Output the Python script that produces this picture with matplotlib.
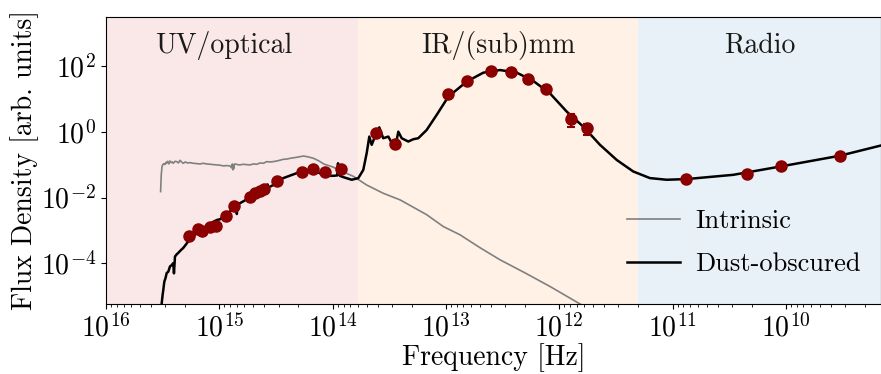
import numpy as np
import matplotlib
matplotlib.use("Agg")
import matplotlib.pyplot as plt
import matplotlib.transforms as mtransforms

plt.rcParams['font.family'] = 'serif'
plt.rcParams['font.serif'] = ['cmr10']
plt.rcParams['mathtext.fontset'] = 'cm'
plt.rcParams['axes.unicode_minus'] = False
plt.rcParams['axes.formatter.use_mathtext'] = True

# ---- data (log10 frequency [Hz], log10 flux density [arb. units]) ----
intr_lognu = [15.518, 15.512, 15.505, 15.500, 15.49, 15.48, 15.47, 15.464, 15.455, 15.445,
              15.435, 15.425, 15.415, 15.406, 15.39, 15.376, 15.36, 15.347, 15.33, 15.318,
              15.30, 15.28, 15.259, 15.23, 15.20, 15.17, 15.14, 15.111, 15.08, 15.05,
              15.023, 14.99, 14.964, 14.935, 14.906, 14.89, 14.885, 14.88, 14.877, 14.872,
              14.868, 14.862, 14.84, 14.817, 14.79, 14.76, 14.729, 14.70, 14.67, 14.64,
              14.61, 14.582, 14.55, 14.523, 14.48, 14.435, 14.40, 14.376, 14.32, 14.256,
              14.21, 14.168, 14.12, 14.079, 14.00, 13.932, 13.815, 13.699, 13.553, 13.405,
              13.30, 13.170, 13.023, 12.876, 12.70, 12.522, 12.30, 12.081, 11.816, 11.6]
intr_logf = [-1.82, -1.30, -1.05, -1.01, -0.97, -1.00, -0.93, -0.96, -0.90, -0.98,
             -0.89, -0.94, -0.92, -0.96, -0.90, -0.91, -0.95, -0.87, -0.93, -0.96,
             -0.92, -0.95, -0.94, -0.96, -0.97, -0.98, -0.96, -0.98, -0.99, -1.00,
             -1.01, -1.02, -1.04, -1.03, -1.04, -1.10, -0.98, -1.16, -1.02, -1.12,
             -0.99, -0.98, -1.00, -1.01, -0.99, -1.00, -1.01, -0.98, -0.99, -0.95,
             -0.96, -0.91, -0.92, -0.91, -0.88, -0.84, -0.83, -0.81, -0.78, -0.74,
             -0.77, -0.81, -0.89, -0.98, -1.07, -1.18, -1.36, -1.62, -1.87, -2.07,
             -2.27, -2.52, -2.88, -3.13, -3.52, -3.89, -4.29, -4.70, -5.23, -5.60]

dust_lognu = [15.53, 15.508, 15.50, 15.494, 15.485, 15.475, 15.464, 15.45, 15.435, 15.42,
              15.406, 15.40, 15.391, 15.375, 15.362, 15.34, 15.318, 15.30, 15.274, 15.25,
              15.229, 15.20, 15.17, 15.14, 15.111, 15.08, 15.05, 15.02, 14.994, 14.95,
              14.906, 14.87, 14.85, 14.845, 14.84, 14.817, 14.77, 14.729, 14.67, 14.612,
              14.58, 14.575, 14.57, 14.523, 14.435, 14.317, 14.24, 14.170, 14.12, 14.082,
              14.04, 13.994, 13.96, 13.952, 13.948, 13.935, 13.906, 13.831, 13.773, 13.729,
              13.699, 13.676, 13.655, 13.626, 13.588, 13.553, 13.508, 13.464, 13.434, 13.420,
              13.390, 13.332, 13.288, 13.244, 13.170, 13.081, 12.979, 12.816, 12.670, 12.522,
              12.375, 12.229, 12.081, 11.934, 11.787, 11.640, 11.492, 11.346, 11.199, 11.051,
              10.878, 10.463, 10.051, 9.522, 9.160, 9.10]
dust_logf = [-6.0, -5.20, -4.95, -4.80, -4.55, -4.45, -4.29, -4.25, -4.09, -4.05,
             -3.99, -4.30, -3.79, -3.72, -3.68, -3.60, -3.53, -3.45, -3.33, -3.25,
             -3.18, -3.08, -3.00, -2.95, -2.90, -2.80, -2.73, -2.68, -2.66, -2.55,
             -2.42, -2.30, -2.27, -2.50, -2.25, -2.17, -2.08, -2.02, -1.88, -1.77,
             -1.72, -1.60, -1.70, -1.62, -1.41, -1.26, -1.22, -1.21, -1.25, -1.31,
             -1.34, -1.34, -1.33, -0.96, -1.30, -1.34, -1.38, -1.46, -1.41, -1.16,
             -0.65, -0.15, -0.40, -0.15, 0.13, -0.20, -0.15, -0.43, -0.25, 0.00,
             -0.20, -0.30, -0.23, -0.20, 0.05, 0.51, 1.06, 1.52, 1.79, 1.87,
             1.79, 1.54, 1.16, 0.61, 0.15, -0.40, -0.86, -1.21, -1.41, -1.46,
             -1.44, -1.31, -1.06, -0.73, -0.42, -0.40]

obs_lognu = [15.267, 15.191, 15.155, 15.082, 15.029, 14.941, 14.868, 14.729, 14.685, 14.641,
             14.606, 14.494, 14.273, 14.176, 14.068, 13.928,
             13.620, 13.449, 12.979, 12.816, 12.602, 12.425, 12.275, 12.114, 11.896, 11.757,
             10.878, 10.345, 10.045, 9.522]
obs_logf = [-3.17, -2.94, -3.03, -2.90, -2.85, -2.55, -2.25, -1.99, -1.87, -1.79,
            -1.74, -1.485, -1.21, -1.14, -1.23, -1.13,
            -0.05, -0.37, 1.142, 1.536, 1.84, 1.82, 1.606, 1.285, 0.376, 0.103,
            -1.44, -1.29, -1.04, -0.727]
obs_relerr = [0, 0, 0, 0, 0, 0, 0, 0, 0, 0,
              0, 0, 0, 0, 0, 0,
              0, 0, 0, 0, 0, 0, 0, 0, 0.40, 0.37,
              0, 0, 0, 0]

region_names = ['UV/optical', 'IR/(sub)mm', 'Radio']
region_edges = [1e16, 6e13, 2e11, 1.445e9]
region_colors = ['C3', 'C1', 'C0']
region_label_lognu = [14.961, 12.54, 10.23]

# ---- figure ----
fig = plt.figure(figsize=(8.81, 3.74), dpi=100)
ax = fig.add_axes([0.1203, 0.187, 0.8797, 0.768])

for i, name in enumerate(region_names):
    ax.axvspan(region_edges[i], region_edges[i + 1], color=region_colors[i],
               alpha=0.1, lw=0, zorder=0)

trans = mtransforms.blended_transform_factory(ax.transData, ax.transAxes)
for name, lx in zip(region_names, region_label_lognu):
    ax.text(10 ** lx, 0.875, name, transform=trans, ha='center', va='baseline',
            fontsize=20, color='#1a1a1a')

ax.plot(10 ** np.array(intr_lognu), 10 ** np.array(intr_logf), color='grey',
        lw=1.2, label='Intrinsic', zorder=2)
ax.plot(10 ** np.array(dust_lognu), 10 ** np.array(dust_logf), color='black',
        lw=1.8, label='Dust-obscured', zorder=3)

nu = 10 ** np.array(obs_lognu)
fl = 10 ** np.array(obs_logf)
err = fl * np.array(obs_relerr)
ax.errorbar(nu, fl, yerr=err, fmt='o', color='darkred', ms=8, elinewidth=1.5,
            capsize=3, capthick=1.5, zorder=4)

ax.set_xscale('log')
ax.set_yscale('log')
ax.set_xlim(region_edges[0], region_edges[-1])
ax.set_ylim(10 ** -5.233, 10 ** 3.485)

ax.set_xlabel('Frequency [Hz]', fontsize=20, labelpad=0.5)
ax.set_ylabel('Flux Density [arb. units]', fontsize=20, labelpad=1.5)
ax.tick_params(axis='both', which='major', labelsize=20)

ax.legend(loc='lower right', frameon=False, fontsize=19, handletextpad=0.6,
          labelspacing=0.73, bbox_to_anchor=(1.005, 0.014))

fig.savefig('out.png', dpi=100)
